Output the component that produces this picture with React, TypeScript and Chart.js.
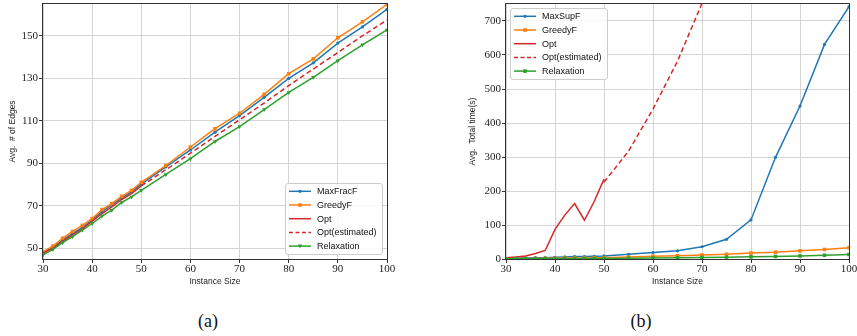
import React, { useEffect, useRef } from "react";
import { Chart, registerables } from "chart.js";

Chart.register(...registerables);

// ---------- data ----------
const sizes = [30, 32, 34, 36, 38, 40, 42, 44, 46, 48, 50, 55, 60, 65, 70, 75, 80, 85, 90, 95, 100];
const optSizes = [30, 32, 34, 36, 38, 40, 42, 44, 46, 48, 50];
const edgeEstSizes = [50, 55, 60, 65, 70, 75, 80, 85, 90, 95, 100];
const timeEstSizes = [50, 55, 60, 65, 70, 75];

const edgesMaxFracF = [48.1, 50.5, 53.9, 57.0, 59.8, 63.3, 67.3, 70.5, 73.6, 76.6, 80.2, 88.3, 96.3, 104.7, 112.5, 121.1, 130.0, 137.3, 146.6, 154.2, 162.5];
const edgesGreedyF = [48.4, 51.1, 54.8, 58.0, 60.8, 64.0, 68.3, 71.1, 74.5, 77.3, 81.1, 89.0, 97.7, 106.3, 113.6, 122.5, 132.2, 139.2, 149.1, 156.6, 164.8];
const edgesOpt = [47.8, 50.0, 53.3, 56.4, 59.2, 62.8, 66.4, 69.5, 73.0, 75.8, 79.4];
const edgesOptEst = [79.4, 87.0, 94.8, 102.7, 110.5, 118.4, 126.6, 134.4, 142.2, 150.0, 157.5];
const edgesRelaxation = [46.9, 49.5, 52.7, 55.5, 58.6, 61.7, 65.2, 68.0, 71.6, 74.2, 77.3, 84.8, 92.2, 100.3, 107.3, 115.3, 123.4, 130.5, 138.3, 145.8, 152.8];

const timeMaxSupF = [2, 3, 3, 4, 4, 5, 6, 7, 7, 8, 9, 14, 19, 24, 36, 58, 115, 299, 450, 631, 742];
const timeGreedyF = [1, 1.2, 1.5, 1.8, 2, 2.3, 2.6, 3, 3.3, 3.7, 4, 6, 8, 9.5, 12, 14, 17.5, 20, 24, 28, 33];
const timeOpt = [4, 6, 9, 16, 25, 87, 129, 163, 114, 169, 235];
const timeOptEst = [226, 317, 441, 582, 752, 960];
const timeRelaxation = [0.5, 0.6, 0.7, 0.8, 0.9, 1, 1.1, 1.2, 1.4, 1.5, 1.7, 2.2, 3, 3.7, 4.5, 5.5, 6.5, 7.5, 9, 11, 13];

const xTicks = [30, 40, 50, 60, 70, 80, 90, 100];
const edgeTicks = [50, 70, 90, 110, 130, 150];
const timeTicks = [0, 100, 200, 300, 400, 500, 600, 700];

// ---------- styles ----------
const BLUE = "#1f77b4";
const ORANGE = "#ff7f0e";
const GREEN = "#2ca02c";
const RED = "#d62728";
const SERIF = "'Liberation Serif', 'DejaVu Serif', serif";
const SANS = "'Liberation Sans', 'DejaVu Sans', sans-serif";

const pts = (xs: number[], ys: number[]) => xs.map((x, i) => ({ x, y: ys[i] }));

type Marker = "circle" | "rect" | "tri" | null;
type LegendItem = { label: string; color: string; dash?: number[]; marker: Marker };

function drawMarker(ctx: CanvasRenderingContext2D, m: Marker, x: number, y: number, color: string) {
  if (!m) return;
  ctx.fillStyle = color;
  ctx.beginPath();
  if (m === "circle") ctx.arc(x, y, 1.6, 0, Math.PI * 2);
  else if (m === "rect") ctx.rect(x - 1.8, y - 1.8, 3.6, 3.6);
  else {
    ctx.moveTo(x - 2.2, y - 1.5);
    ctx.lineTo(x + 2.2, y - 1.5);
    ctx.lineTo(x, y + 2.2);
    ctx.closePath();
  }
  ctx.fill();
}

function makeLegendPlugin(items: LegendItem[], corner: "br" | "tl") {
  return {
    id: "boxLegend",
    afterDraw(chart: any) {
      const ctx: CanvasRenderingContext2D = chart.ctx;
      const a = chart.chartArea;
      ctx.save();
      ctx.font = `9px ${SANS}`;
      const tw = Math.max(...items.map((i) => ctx.measureText(i.label).width));
      const w = Math.round(4 + 22 + 6 + tw + 5);
      const rowH = 13.7;
      const h = Math.round((items.length - 1) * rowH + 16.5);
      let x0: number, y0: number;
      if (corner === "br") {
        x0 = Math.round(a.right - 5 - w);
        y0 = Math.round(a.bottom - 5 - h);
      } else {
        x0 = Math.round(a.left + 4);
        y0 = Math.round(a.top + 4);
      }
      ctx.beginPath();
      (ctx as any).roundRect(x0 + 0.5, y0 + 0.5, w, h, 2.5);
      ctx.fillStyle = "rgba(255,255,255,0.85)";
      ctx.fill();
      ctx.strokeStyle = "#cccccc";
      ctx.lineWidth = 1;
      ctx.stroke();
      items.forEach((it, i) => {
        const cy = y0 + 8.3 + i * rowH;
        ctx.beginPath();
        ctx.setLineDash(it.dash || []);
        ctx.strokeStyle = it.color;
        ctx.lineWidth = 1.5;
        ctx.moveTo(x0 + 4, cy);
        ctx.lineTo(x0 + 26, cy);
        ctx.stroke();
        ctx.setLineDash([]);
        drawMarker(ctx, it.marker, x0 + 15, cy, it.color);
        ctx.fillStyle = "#111";
        ctx.textBaseline = "middle";
        ctx.textAlign = "left";
        ctx.fillText(it.label, x0 + 32, cy + 0.5);
      });
      ctx.restore();
    },
  };
}

const framePlugin = {
  id: "frame",
  afterDatasetsDraw(chart: any) {
    const ctx: CanvasRenderingContext2D = chart.ctx;
    const a = chart.chartArea;
    ctx.save();
    ctx.strokeStyle = "#333";
    ctx.lineWidth = 1;
    const l = Math.round(a.left) - 0.5;
    const t = Math.round(a.top) - 0.5;
    const r = Math.round(a.right) + 0.5;
    const b = Math.round(a.bottom) + 0.5;
    ctx.strokeRect(l, t, r - l, b - t);
    ctx.restore();
  },
};

function lineDs(label: string, data: any[], color: string, marker: Marker, order: number, dash?: number[]) {
  const style = marker === "circle" ? "circle" : marker === "rect" ? "rect" : marker === "tri" ? "triangle" : false;
  return {
    label,
    data,
    borderColor: color,
    backgroundColor: color,
    borderWidth: 1.5,
    borderDash: dash || [],
    pointStyle: style,
    pointRadius: marker ? (marker === "circle" ? 1.6 : 2.5) : 0,
    pointRotation: marker === "tri" ? 180 : 0,
    pointBorderWidth: 0,
    tension: 0,
    order,
  };
}

function buildOptions(opts: {
  yMin: number;
  yMax: number;
  yTicks: number[];
  yTitle: string;
  yWidth: number;
  yTitlePad: number;
  padRight: number;
}) {
  const tickFont = { family: SERIF, size: 11 };
  const titleFont = { family: SANS, size: 8.5 };
  const zeroPad = (s: any) => {
    s.paddingTop = 0;
    s.paddingBottom = 0;
    s.paddingLeft = 0;
    s.paddingRight = 0;
  };
  return {
    responsive: false,
    animation: false as const,
    events: [] as any[],
    layout: { padding: { top: 3, right: opts.padRight, bottom: 0, left: 0 } },
    plugins: { legend: { display: false }, tooltip: { enabled: false } },
    scales: {
      x: {
        type: "linear" as const,
        min: 30,
        max: 100,
        afterBuildTicks: (s: any) => {
          s.ticks = xTicks.map((v) => ({ value: v }));
        },
        afterFit: (s: any) => {
          s.height = 41;
          zeroPad(s);
        },
        ticks: { font: tickFont, color: "#222", padding: 0, maxRotation: 0, autoSkip: false, callback: (v: any) => String(v) },
        grid: { color: "#d4d4d4", lineWidth: 1, tickLength: 4, tickColor: "#333", drawTicks: true },
        border: { display: false },
        title: { display: true, text: "Instance Size", font: titleFont, color: "#222", padding: { top: 0, bottom: 13 } },
      },
      y: {
        type: "linear" as const,
        min: opts.yMin,
        max: opts.yMax,
        afterBuildTicks: (s: any) => {
          s.ticks = opts.yTicks.map((v) => ({ value: v }));
        },
        afterFit: (s: any) => {
          s.width = opts.yWidth;
          zeroPad(s);
        },
        ticks: { font: tickFont, color: "#222", padding: 1, autoSkip: false, callback: (v: any) => String(v) },
        grid: { color: "#d4d4d4", lineWidth: 1, tickLength: 4, tickColor: "#333", drawTicks: true },
        border: { display: false },
        title: { display: true, text: opts.yTitle, font: titleFont, color: "#222", padding: { top: opts.yTitlePad, bottom: 0 } },
      },
    },
  };
}

export default function App() {
  const leftRef = useRef<HTMLCanvasElement | null>(null);
  const rightRef = useRef<HTMLCanvasElement | null>(null);

  useEffect(() => {
    const left = new Chart(leftRef.current as HTMLCanvasElement, {
      type: "line",
      data: {
        datasets: [
          lineDs("MaxFracF", pts(sizes, edgesMaxFracF), BLUE, "circle", 5),
          lineDs("GreedyF", pts(sizes, edgesGreedyF), ORANGE, "rect", 4),
          lineDs("Opt", pts(optSizes, edgesOpt), RED, null, 3),
          lineDs("Opt(estimated)", pts(edgeEstSizes, edgesOptEst), RED, null, 2, [5, 3]),
          lineDs("Relaxation", pts(sizes, edgesRelaxation), GREEN, "tri", 1),
        ] as any,
      },
      options: buildOptions({
        yMin: 45,
        yMax: 165,
        yTicks: edgeTicks,
        yTitle: "Avg.  # of Edges",
        yWidth: 43,
        yTitlePad: 8,
        padRight: 13,
      }) as any,
      plugins: [
        framePlugin,
        makeLegendPlugin(
          [
            { label: "MaxFracF", color: BLUE, marker: "circle" },
            { label: "GreedyF", color: ORANGE, marker: "rect" },
            { label: "Opt", color: RED, marker: null },
            { label: "Opt(estimated)", color: RED, marker: null, dash: [4, 2.5] },
            { label: "Relaxation", color: GREEN, marker: "tri" },
          ],
          "br"
        ),
      ],
    });

    const right = new Chart(rightRef.current as HTMLCanvasElement, {
      type: "line",
      data: {
        datasets: [
          lineDs("MaxSupF", pts(sizes, timeMaxSupF), BLUE, "circle", 5),
          lineDs("GreedyF", pts(sizes, timeGreedyF), ORANGE, "rect", 4),
          lineDs("Opt", pts(optSizes, timeOpt), RED, null, 3),
          lineDs("Opt(estimated)", pts(timeEstSizes, timeOptEst), RED, null, 2, [5, 3]),
          lineDs("Relaxation", pts(sizes, timeRelaxation), GREEN, "rect", 1),
        ] as any,
      },
      options: buildOptions({
        yMin: 0,
        yMax: 750,
        yTicks: timeTicks,
        yTitle: "Avg.  Total time(s)",
        yWidth: 76,
        yTitlePad: 38,
        padRight: 8,
      }) as any,
      plugins: [
        framePlugin,
        makeLegendPlugin(
          [
            { label: "MaxSupF", color: BLUE, marker: "circle" },
            { label: "GreedyF", color: ORANGE, marker: "rect" },
            { label: "Opt", color: RED, marker: null },
            { label: "Opt(estimated)", color: RED, marker: null, dash: [4, 2.5] },
            { label: "Relaxation", color: GREEN, marker: "rect" },
          ],
          "tl"
        ),
      ],
    });

    return () => {
      left.destroy();
      right.destroy();
    };
  }, []);

  const caption: React.CSSProperties = {
    position: "absolute",
    top: 309,
    width: 60,
    textAlign: "center",
    fontFamily: SERIF,
    fontSize: 18,
    lineHeight: "24px",
    color: "#111",
  };

  return (
    <div style={{ position: "absolute", left: 0, top: 0, width: 857, height: 336, background: "#fff", overflow: "hidden" }}>
      <canvas ref={leftRef} width={400} height={300} style={{ position: "absolute", left: 0, top: 0, width: 400, height: 300 }} />
      <canvas ref={rightRef} width={427} height={300} style={{ position: "absolute", left: 430, top: 0, width: 427, height: 300 }} />
      <div style={{ ...caption, left: 208 - 30 }}>(a)</div>
      <div style={{ ...caption, left: 641 - 30 }}>(b)</div>
    </div>
  );
}
